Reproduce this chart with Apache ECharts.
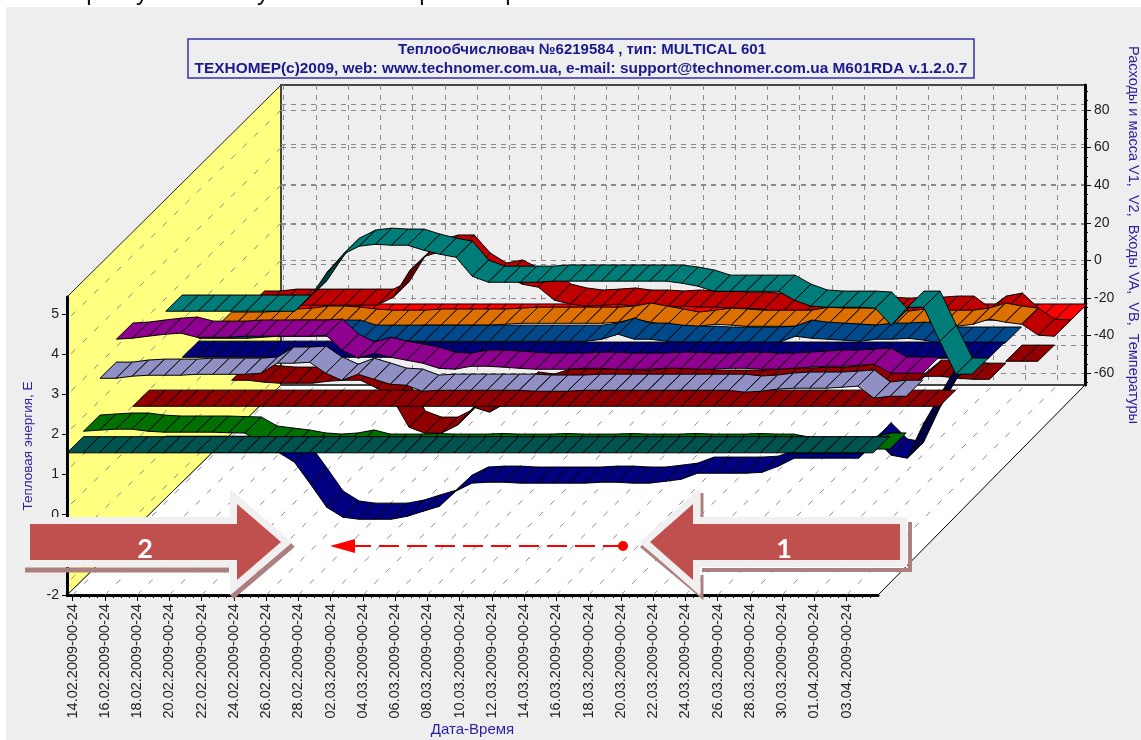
<!DOCTYPE html>
<html>
<head>
<meta charset="utf-8">
<style>html,body{margin:0;padding:0;background:#fff}#c{width:1141px;height:740px}</style>
<script src="https://cdn.jsdelivr.net/npm/echarts@6/dist/echarts.min.js"></script>
</head>
<body>
<div id="c"></div>
<script>
// ---------- axis content ----------
const dateLabels = ['14.02.2009-00-24','16.02.2009-00-24','18.02.2009-00-24','20.02.2009-00-24','22.02.2009-00-24','24.02.2009-00-24','26.02.2009-00-24','28.02.2009-00-24','02.03.2009-00-24','04.03.2009-00-24','06.03.2009-00-24','08.03.2009-00-24','10.03.2009-00-24','12.03.2009-00-24','14.03.2009-00-24','16.03.2009-00-24','18.03.2009-00-24','20.03.2009-00-24','22.03.2009-00-24','24.03.2009-00-24','26.03.2009-00-24','28.03.2009-00-24','30.03.2009-00-24','01.04.2009-00-24','03.04.2009-00-24'];
const energyTicks = [-2,-1,0,1,2,3,4,5];
const flowTicks = [-60,-40,-20,0,20,40,60,80];

// ---------- series values, one per day (ribbon depth order, front to back) ----------
const energyE = [1.54,1.54,1.54,1.54,1.54,1.54,1.54,1.54,1.54,1.54,1.54,1.54,1.54,1.54,1.54,1.54,1.54,1.54,1.54,1.54,1.54,1.54,1.54,1.54,1.54,1.54,1.54,1.54,1.54,1.54,1.54,1.54,1.54,1.54,1.54,1.54,1.54,1.54,1.54,1.54,1.54,1.54,1.54,1.54,1.54,1.54,1.54,1.54,1.54,1.54,1.54];
const greenSeries = [12.2,12.8,13.3,13.3,12.2,11.7,11.7,11.7,11.7,11.4,11.2,6.4,5.3,4.3,2.7,2.1,2.7,4.3,2.1,2.1,2.1,2.4,2.1,2.1,2.1,2.4,2.1,2.1,2.1,2.4,2.1,2.1,2.1,2.4,2.1,2.1,2.1,2.4,2.1,2.1,2.1,2.4,2.1,2.1,0.5,0.5,0.5,0.5,0.5,2.7,2.7];
const lavenderSeries = [31.8,31.8,32.9,33.4,33.4,33.4,33.9,33.9,33.9,33.9,34.5,39.8,39.8,40.3,34.5,30.7,33.9,31.3,28.6,28.1,24.9,25.4,25.4,25.4,25.4,25.4,25.4,24.9,24.9,24.9,25.4,25.4,25.4,25.4,25.4,25.4,25.4,25.4,25.4,25.4,24.4,24.9,26.0,26.5,26.5,26.5,27.0,27.6,21.2,22.2,22.2];
const purpleSeries = [44.0,44.5,45.6,46.6,47.2,45.0,45.0,45.0,45.6,45.6,45.6,45.6,45.6,46.1,38.1,33.9,36.5,34.4,32.8,31.2,28.5,28.0,29.6,29.6,29.1,28.5,28.0,28.0,28.0,28.5,28.5,28.0,28.0,28.0,28.5,28.5,28.0,28.0,28.5,28.5,28.0,28.0,28.5,29.1,29.6,29.6,30.1,30.7,25.9,25.9,25.9];
const maroonFlat = [-0.3,-0.3,-0.3,-0.3,-0.3,-0.3,-0.3,-0.3,-0.3,-0.3,-0.3,-0.3,-0.3,-0.3,-0.3,-0.3,-0.3,-0.3,-0.3,-0.3,-0.3,-0.3,-0.3,-0.3,-0.3,-0.3,-0.3,-0.3,-0.3,-0.3,-0.3,-0.3,-0.3,-0.3,-0.3,-0.3,-0.3,-0.3,-0.3,-0.3,-0.3,-0.3,-0.3,-0.3,-0.3,-0.3,-0.3,-0.3,-0.3,-0.3,-0.3];
const navySeries = [-33.4,-33.4,-33.4,-33.4,-33.4,-33.4,-33.4,-33.4,-33.4,-38.6,-50.4,-62.6,-67.9,-69.0,-69.0,-69.0,-67.4,-64.7,-62.1,-54.1,-49.8,-49.3,-49.3,-49.8,-49.8,-49.8,-49.8,-49.8,-49.3,-49.3,-49.8,-49.8,-48.8,-47.7,-44.5,-44.5,-44.5,-44.5,-44.0,-40.8,-36.5,-36.5,-36.5,-36.5,-36.5,-26.4,-34.9,-36.5,-18.4,-3.5,11.4];
const tealSeries = [33.1,33.1,33.1,33.1,33.1,33.1,33.1,33.1,33.1,41.1,53.8,63.4,67.7,68.7,68.2,68.2,65.5,63.4,61.8,51.7,48.5,48.5,48.5,48.5,49.1,49.1,49.1,49.1,49.1,49.1,49.1,49.1,48.0,46.4,43.7,43.7,43.7,43.7,43.7,38.9,35.8,35.2,35.2,35.2,34.7,25.6,35.2,35.2,17.1,-0.4,-0.4];
const deepBlueSeries = [0,0,0,0,0,0,0,0,0,0,0,0,0,0,-0.5,-0.5,-0.5,-0.5,-0.5,-0.5,-0.5,-0.5,-0.5,-0.5,-0.5,-0.5,-0.5,-0.5,-0.5,-0.5,-0.5,-0.5,-0.5,-0.5,-0.5,-0.5,-0.5,-0.5,-0.5,-0.5,-0.5,-0.5,-0.5,-0.5,-0.5,-0.5,-0.5,-0.5,-0.5,-0.5,-0.5];
const blueSeries = [1.5,1.5,1.5,1.5,2.1,2.6,2.6,2.6,2.6,2.6,-0.1,-0.1,-0.1,-0.1,-0.1,-0.1,-0.1,-0.1,-0.1,-0.1,-0.1,-0.1,-0.1,-0.1,-0.1,1.0,3.7,1.0,1.0,-0.1,-0.6,-0.6,-1.1,-1.1,-1.1,-1.1,-0.6,2.6,1.5,1.0,0.5,-0.1,1.0,1.0,1.5,0.5,-1.1,-1.1,-1.1,-1.1,-1.1];
const orangeSeries = [-1.7,-1.7,-1.7,-1.2,-0.1,0.4,1.5,1.5,0.9,-0.1,-0.7,-0.7,-0.7,-0.1,-0.1,-0.1,-0.1,-0.1,0.4,0.9,0.9,0.9,0.9,0.9,0.9,1.5,3.1,1.5,-0.1,-1.7,-0.7,0.4,-0.1,-0.7,-0.7,-0.7,-0.7,0.9,0.4,0.4,0.4,-0.1,-1.2,-0.1,-0.7,-0.7,-0.7,0.4,3.1,1.5,0.4];
const darkRedSeries = [-38.0,-38.0,-39.0,-39.6,-39.6,-39.6,-38.5,-38.0,-38.0,-42.2,-48.1,-63.0,-66.2,-66.2,-61.9,-52.3,-55.0,-50.2,-42.2,-43.3,-40.6,-40.6,-40.6,-40.6,-41.2,-41.2,-40.1,-40.1,-40.1,-41.2,-41.2,-41.2,-41.2,-40.6,-40.1,-40.1,-39.6,-39.6,-39.0,-37.5,-42.8,-42.8,-42.8,-35.9,-35.9,-36.9,-37.5,-37.5,-27.9,-27.9,-27.9];
const crimsonSeries = [-7.7,-7.7,-6.7,-6.7,-6.7,-6.7,-6.7,-6.7,-6.7,-2.4,11.4,19.4,22.1,22.1,12.5,7.2,8.8,4.5,2.9,-4.0,-6.1,-7.2,-6.7,-6.1,-7.2,-7.2,-7.7,-7.2,-7.7,-7.7,-8.3,-8.3,-8.8,-11.5,-15.2,-15.2,-15.2,-15.2,-13.0,-11.0,-11.5,-11.0,-11.0,-10.4,-10.4,-16.8,-10.4,-8.8,-16.8,-22.6,-23.2];
const redSeries = [-23.2,-23.2,-23.2,-23.2,-23.2,-23.2,-23.2,-23.2,-23.2,-23.2,-23.2,-23.2,-23.2,-23.2,-23.2,-23.2,-23.2,-23.2,-23.2,-23.2,-23.2,-23.2,-23.2,-23.2,-23.2,-23.2,-23.2,-23.2,-23.2,-23.2,-23.2,-23.2,-23.2,-23.2,-23.2,-23.2,-23.2,-23.2,-23.2,-23.2,-23.2,-23.2,-23.2,-23.2,-23.2,-23.2,-23.2,-23.2,-23.2,-23.2,-23.2];
const darkRedGaps = [47];

// ---------- pseudo-3D projection ----------
const DEPTH_DX = 16.46, DEPTH_DY = 16.15, WALL_DEPTH = 13;
const frontTicks = dateLabels.map((_, i) => 0.35 + 2 * i);
const wallTicks = dateLabels.map((_, i) => 0.16 + 2 * i);
const minorDays = [];
for (let i = 0; i <= 100; i++) minorDays.push(0.35 + i * 0.5);
const minorFlow = [];
for (let v = -65; v <= 90; v += 5) minorFlow.push(v);

function shade(hex) {
  const n = parseInt(hex.slice(1), 16);
  const f = c => Math.round(c * 0.5);
  return 'rgb(' + f(n >> 16) + ',' + f((n >> 8) & 255) + ',' + f(n & 255) + ')';
}

function ribbon(name, values, depth, color, onWall, gaps) {
  const data = [];
  values.slice(0, -1).forEach((v, i) => {
    if (!(gaps || []).includes(i)) data.push([i, v, i + 1, values[i + 1]]);
  });
  const plane = onWall ? WALL_DEPTH : 0;
  return {
    type: 'custom', name, silent: true, clip: false, z: 5,
    coordinateSystem: 'cartesian2d',
    xAxisIndex: onWall ? 2 : 0,
    yAxisIndex: onWall ? 1 : 0,
    encode: { x: [0, 2], y: [1, 3] },
    data,
    renderItem(params, api) {
      const a = api.coord([api.value(0), api.value(1)]);
      const b = api.coord([api.value(2), api.value(3)]);
      const f = depth - plane, k = f + 1;
      const pt = (p, s) => [p[0] + s * DEPTH_DX, p[1] - s * DEPTH_DY];
      const a0 = pt(a, f), b0 = pt(b, f), b1 = pt(b, k), a1 = pt(a, k);
      const under = (a0[1] - b0[1]) / (b0[0] - a0[0]) > DEPTH_DY / DEPTH_DX;
      return {
        type: 'polygon',
        shape: { points: [a0, b0, b1, a1] },
        style: { fill: under ? shade(color) : color, stroke: '#000', lineWidth: 1 }
      };
    }
  };
}

function guides(grid, values, axisValue, dx, dy) {
  return {
    type: 'custom', silent: true, clip: false, z: 1,
    coordinateSystem: 'cartesian2d',
    xAxisIndex: grid === 0 ? 0 : 2,
    yAxisIndex: grid === 0 ? 0 : 1,
    data: values.map(v => [v]),
    encode: { x: [], y: [] },
    renderItem(params, api) {
      const p = api.coord(axisValue(api.value(0)));
      return {
        type: 'line',
        shape: { x1: p[0], y1: p[1], x2: p[0] + dx, y2: p[1] + dy },
        style: { stroke: '#8a8a8a', lineWidth: 1, lineDash: [6, 10] }
      };
    }
  };
}

const AXIS_TEXT = '#222';
const NAME_TEXT = '#2a1fa0';
const dashed = { show: true, lineStyle: { color: '#8a8a8a', type: [5, 5], width: 1 } };

const markers = [
  // clipped descenders of the text line above the chart
  ...[[93, 'р'], [142, 'у'], [263, 'у'], [426, 'р'], [512, 'р']].map(([x, t]) => ({
    type: 'text', z: -12, silent: true, x, y: 5,
    style: { text: t, font: '24px "Liberation Sans"', fill: '#111', align: 'center', verticalAlign: 'bottom' }
  })),
  { type: 'rect', z: -10, silent: true, shape: { x: 6, y: 7, width: 1135, height: 733 }, style: { fill: '#eeeeee' } },
  { type: 'polygon', z: -1, silent: true, shape: { points: [[67, 595], [281, 385], [1085, 385], [878, 595]] }, style: { fill: '#fff', stroke: '#000', lineWidth: 1 } },
  { type: 'polygon', z: -1, silent: true, shape: { points: [[67, 297], [281, 85], [281, 385], [67, 595]] }, style: { fill: '#ffff80', stroke: '#222', lineWidth: 1 } },
  // title box
  { type: 'rect', z: 50, silent: true, shape: { x: 188, y: 39, width: 786, height: 39 }, style: { fill: '#eeeeee', stroke: '#3333aa', lineWidth: 1.5 } },
  { type: 'text', z: 51, silent: true, x: 582, y: 50, style: { text: 'Теплообчислювач №6219584 , тип: MULTICAL 601', font: 'bold 15px "Liberation Sans"', fill: '#1a1a8c', align: 'center', verticalAlign: 'middle' } },
  { type: 'text', z: 51, silent: true, x: 581, y: 69, style: { text: 'ТЕХНОМЕР(c)2009, web: www.technomer.com.ua, e-mail: support@technomer.com.ua M601RDA v.1.2.0.7', font: 'bold 15.4px "Liberation Sans"', fill: '#1a1a8c', align: 'center', verticalAlign: 'middle' } },
  // arrow shadows
  { type: 'polyline', z: 60, silent: true, shape: { points: [[25, 570], [229, 570]] }, style: { stroke: '#ad8080', lineWidth: 5, fill: 'none' } },
  { type: 'polyline', z: 60, silent: true, shape: { points: [[232, 597], [293, 545]] }, style: { stroke: '#ad8080', lineWidth: 5, fill: 'none' } },
  { type: 'polyline', z: 60, silent: true, shape: { points: [[702, 570], [910, 570], [910, 522]] }, style: { stroke: '#ad8080', lineWidth: 4, fill: 'none' } },
  { type: 'polyline', z: 60, silent: true, shape: { points: [[641, 546], [702, 597], [702, 575]] }, style: { stroke: '#ad8080', lineWidth: 3, fill: 'none' } },
  { type: 'polyline', z: 60, silent: true, shape: { points: [[702, 493], [702, 517]] }, style: { stroke: '#ad8080', lineWidth: 3, fill: 'none' } },
  // block arrows
  { type: 'polygon', z: 61, silent: true, shape: { points: [[30, 524], [237, 524], [237, 504], [281, 542], [237, 580], [237, 560], [30, 560]] }, style: { fill: '#c0504d', stroke: '#f0f0f0', lineWidth: 14, lineJoin: 'miter' } },
  { type: 'polygon', z: 62, silent: true, shape: { points: [[30, 524], [237, 524], [237, 504], [281, 542], [237, 580], [237, 560], [30, 560]] }, style: { fill: '#c0504d' } },
  { type: 'polygon', z: 61, silent: true, shape: { points: [[900, 524], [693, 524], [693, 504], [650, 542], [693, 580], [693, 560], [900, 560]] }, style: { fill: '#c0504d', stroke: '#f0f0f0', lineWidth: 14, lineJoin: 'miter' } },
  { type: 'polygon', z: 62, silent: true, shape: { points: [[900, 524], [693, 524], [693, 504], [650, 542], [693, 580], [693, 560], [900, 560]] }, style: { fill: '#c0504d' } },
  { type: 'text', z: 63, silent: true, x: 145, y: 549, style: { text: '2', font: 'bold 27px Lato', fill: '#fff', align: 'center', verticalAlign: 'middle' } },
  { type: 'text', z: 63, silent: true, x: 784, y: 549, style: { text: '1', font: 'bold 27px Lato', fill: '#fff', align: 'center', verticalAlign: 'middle' } },
  // red dashed pointer
  { type: 'line', z: 60, silent: true, shape: { x1: 623, y1: 546, x2: 350, y2: 546 }, style: { stroke: '#ff0000', lineWidth: 2, lineDash: [20, 8] } },
  { type: 'polygon', z: 60, silent: true, shape: { points: [[330, 546], [355, 539], [355, 553]] }, style: { fill: '#ff0000' } },
  { type: 'circle', z: 60, silent: true, shape: { cx: 623, cy: 546, r: 5 }, style: { fill: '#ff0000' } }
];

const option = {
  animation: false,
  backgroundColor: '#ffffff',
  textStyle: { fontFamily: '"Liberation Sans", Arial, sans-serif' },
  graphic: { elements: markers },
  grid: [
    { left: 67, top: 297, width: 811, height: 298, containLabel: false, outerBoundsMode: 'none' },
    { left: 281, top: 85, width: 804, height: 300, containLabel: false, outerBoundsMode: 'none', show: true, borderColor: '#444', borderWidth: 2, backgroundColor: 'transparent' }
  ],
  xAxis: [
    {
      gridIndex: 0, type: 'value', min: 0, max: 50.3, position: 'bottom',
      name: 'Дата-Время', nameLocation: 'middle', nameGap: 127,
      nameTextStyle: { color: NAME_TEXT, fontSize: 15 },
      axisLine: { onZero: false, show: true, lineStyle: { color: '#000', width: 3 } },
      axisTick: { show: true, length: 6, customValues: frontTicks, lineStyle: { color: '#000' } },
      axisLabel: { show: true, rotate: 90, margin: 9, fontSize: 14.5, color: AXIS_TEXT, hideOverlap: false, customValues: frontTicks,
        formatter: v => dateLabels[Math.round((v - 0.35) / 2)] || '' },
      splitLine: { show: false }
    },
    {
      gridIndex: 0, type: 'value', min: 0, max: 50.3, position: 'bottom',
      axisLine: { onZero: false, show: false },
      axisTick: { show: true, length: 3, customValues: minorDays, lineStyle: { color: '#000' } },
      axisLabel: { show: false }, splitLine: { show: false }
    },
    {
      gridIndex: 1, type: 'value', min: 0, max: 49.86, position: 'bottom',
      axisLine: { onZero: false, show: false },
      axisTick: { show: false, customValues: wallTicks },
      axisLabel: { show: false },
      splitLine: dashed
    }
  ],
  yAxis: [
    {
      gridIndex: 0, type: 'value', min: -2, max: 5.42, position: 'left',
      name: 'Тепловая энергия, E', nameLocation: 'middle', nameGap: 24, nameRotate: 90,
      nameTextStyle: { color: NAME_TEXT, fontSize: 13.5 },
      axisLine: { onZero: false, show: true, lineStyle: { color: '#000', width: 3 } },
      axisTick: { show: true, length: 5, customValues: energyTicks, lineStyle: { color: '#000' } },
      axisLabel: { show: true, margin: 8, fontSize: 14, color: AXIS_TEXT, customValues: energyTicks },
      splitLine: { show: false }
    },
    {
      gridIndex: 1, type: 'value', min: -66.3, max: 93.3, position: 'right',
      name: 'Расходы и масса V1,  V2,  Входы VA,  VB,  Температуры', nameLocation: 'middle', nameGap: 33, nameRotate: -90,
      nameTextStyle: { color: NAME_TEXT, fontSize: 14.5 },
      axisLine: { onZero: false, show: true, lineStyle: { color: '#000', width: 3 } },
      axisTick: { show: true, length: 6, customValues: flowTicks, lineStyle: { color: '#000' } },
      axisLabel: { show: true, margin: 9, fontSize: 14, color: AXIS_TEXT, customValues: flowTicks },
      splitLine: dashed
    },
    {
      gridIndex: 1, type: 'value', min: -2, max: 5.47, position: 'left',
      axisLine: { show: false, onZero: false },
      axisTick: { show: false, customValues: energyTicks.slice(1) },
      axisLabel: { show: false },
      splitLine: dashed
    },
    {
      gridIndex: 1, type: 'value', min: -66.3, max: 93.3, position: 'right',
      axisLine: { show: false, onZero: false },
      axisTick: { show: true, length: 3, customValues: minorFlow, lineStyle: { color: '#000' } },
      axisLabel: { show: false }, splitLine: { show: false }
    }
  ],
  series: [
    guides(0, frontTicks, t => [t, -2], 211, -210),
    guides(1, flowTicks, v => [0, v], -214, 210),
    ribbon('Series 13', redSeries, 12, '#ff0000', true),
    ribbon('Series 12', crimsonSeries, 11, '#c00000', true),
    ribbon('Series 11', darkRedSeries, 10, '#900000', true, darkRedGaps),
    ribbon('Series 10', orangeSeries, 9, '#dc7000', true),
    ribbon('Series 9', blueSeries, 8, '#004a8c', true),
    ribbon('Series 8', deepBlueSeries, 7, '#000078', true),
    ribbon('Series 6', navySeries, 5, '#000080', true),
    ribbon('Series 7', tealSeries, 6, '#007d78', true),
    ribbon('Series 5', maroonFlat, 4, '#900000', true),
    ribbon('Series 4', purpleSeries, 3, '#900090', true),
    ribbon('Series 3', lavenderSeries, 2, '#9090c4', true),
    ribbon('Series 2', greenSeries, 1, '#007000', true),
    ribbon('E', energyE, 0, '#005450', false)
  ]
};
const chart = echarts.init(document.getElementById('c'), null, { renderer: 'canvas' });
chart.setOption(option);
</script>
</body>
</html>
